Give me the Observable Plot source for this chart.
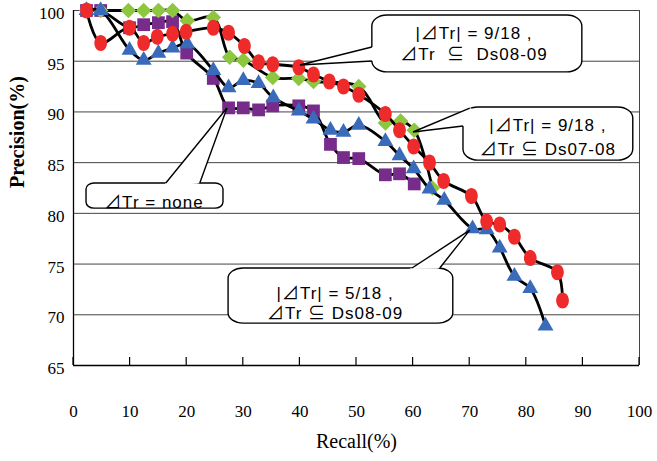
<!DOCTYPE html>
<html><head><meta charset="utf-8">
<script src="https://cdn.jsdelivr.net/npm/d3@7"></script>
<script src="https://cdn.jsdelivr.net/npm/@observablehq/plot@0.6"></script>
<style>body{margin:0;background:#fff} svg{display:block}</style>
</head><body><div id="chart"></div>
<script>
// ---- data ----
const xTicks = [0,10,20,30,40,50,60,70,80,90,100];
const yTicks = [65,70,75,80,85,90,95,100];

// ⊿Tr = none (purple squares)
const noneRecall    = [2.3,4.8,9.9,12.4,15.0,17.5,20.0,24.7,27.4,30.0,32.7,35.2,39.8,42.4,45.4,47.7,50.4,55.1,57.6,60.2];
const nonePrecision = [100,100,98.3,98.6,98.8,98.9,95.8,93.3,90.4,90.4,90.2,90.6,90.6,90.1,86.8,85.5,85.4,83.8,83.9,82.9];

// |⊿Tr| = 9/18, ⊿Tr ⊆ Ds07-08 (green diamonds)
const d0708Recall    = [2.3,4.8,9.7,12.4,15.0,17.5,20.1,24.7,27.6,30.0,35.2,39.8,42.4,50.4,55.1,57.8,60.2,63.4];
const d0708Precision = [100,100,100,100,100,100,99.0,99.3,95.4,95.1,93.4,93.3,93.0,92.5,88.9,89.1,88.2,82.5];

// |⊿Tr| = 5/18, ⊿Tr ⊆ Ds08-09 (blue triangles)
const five0809Recall    = [2.3,4.8,9.9,12.4,15.0,17.5,20.1,24.7,27.4,30.0,32.7,35.3,39.8,42.4,45.4,47.7,50.4,55.1,57.6,60.1,62.9,65.5,70.5,73.0,75.3,77.9,80.7,83.4];
const five0809Precision = [100,100,96.1,95.1,95.8,96.3,96.7,94.1,92.4,93.1,92.8,91.4,90.1,89.3,88.2,88.0,88.7,87.1,85.7,84.4,82.4,81.3,78.5,78.4,76.6,73.8,72.6,68.9];

// |⊿Tr| = 9/18, ⊿Tr ⊆ Ds08-09 (red circles)
const nine0809Recall    = [2.3,4.8,9.9,12.4,14.8,17.5,19.9,24.7,27.4,30.2,32.7,35.2,39.8,42.4,45.2,47.7,50.4,55.1,57.6,60.1,62.9,65.4,70.3,73.0,75.3,77.9,80.7,85.5,86.4];
const nine0809Precision = [100,96.8,98.3,96.8,97.4,97.7,97.9,98.3,97.8,96.5,94.9,94.7,94.4,93.7,93.0,92.5,91.7,89.8,88.2,86.6,85.0,83.2,81.7,79.2,78.9,77.7,75.6,74.2,71.4];

const seriesNames  = ["none", "ds0708", "five0809", "nine0809"];
const seriesColors = ["#772B8A", "#8DC63F", "#3A6BBA", "#EE2A2A"];

// ---- build rows ----
const table = (name, xs, ys) => xs.map((x, i) => ({series: name, recall: x, precision: ys[i]}));
const noneRows = table("none", noneRecall, nonePrecision);
const g0708Rows = table("ds0708", d0708Recall, d0708Precision);
const b5Rows = table("five0809", five0809Recall, five0809Precision);
const r9Rows = table("nine0809", nine0809Recall, nine0809Precision);

// ellipse symbol (slightly tall circles as in reference)
const ellipse = {draw(ctx, size) {
  const r = Math.sqrt(size / Math.PI), rx = r * 0.85, ry = r * 1.07, k = 0.5523;
  ctx.moveTo(rx, 0);
  ctx.bezierCurveTo(rx, ry*k, rx*k, ry, 0, ry);
  ctx.bezierCurveTo(-rx*k, ry, -rx, ry*k, -rx, 0);
  ctx.bezierCurveTo(-rx, -ry*k, -rx*k, -ry, 0, -ry);
  ctx.bezierCurveTo(rx*k, -ry, rx, -ry*k, rx, 0);
  ctx.closePath();
}};

const lineOpts = {x: "recall", y: "precision", stroke: "#000", strokeWidth: 2.8, curve: "catmull-rom"};

const chart = Plot.plot({
  width: 657, height: 461,
  marginLeft: 73, marginRight: 18, marginTop: 10, marginBottom: 96,
  style: {fontFamily: "'Liberation Serif', 'Times New Roman', serif", fontSize: "16px", color: "#000", background: "#fff", overflow: "visible"},
  x: {domain: [0, 100]},
  y: {domain: [65, 100]},
  marks: [
    Plot.ruleY(yTicks, {stroke: "#444", strokeWidth: 1}),
    Plot.ruleX([100], {stroke: "#444", strokeWidth: 1}),
    Plot.ruleX([0], {stroke: "#000", strokeWidth: 1.3}),
    Plot.ruleY([65], {stroke: "#000", strokeWidth: 1.3}),
    Plot.axisX({ticks: xTicks, tickSize: 0, tickPadding: 39, label: null, fontSize: 17}),
    Plot.axisY({ticks: yTicks, tickSize: 0, tickPadding: 9, dy: 3, label: null, fontSize: 17}),
    // purple
    Plot.line(noneRows, lineOpts),
    Plot.dot(noneRows, {x: "recall", y: "precision", symbol: "square", r: 7.2, fill: seriesColors[0]}),
    // green
    Plot.line(g0708Rows, lineOpts),
    Plot.dot(g0708Rows, {x: "recall", y: "precision", symbol: "diamond2", r: 7.0, fill: seriesColors[1]}),
    // blue
    Plot.line(b5Rows, lineOpts),
    Plot.dot(b5Rows, {x: "recall", y: "precision", symbol: "triangle", r: 5.9, fill: seriesColors[2]}),
    // red
    Plot.line(r9Rows, lineOpts),
    Plot.dot(r9Rows, {x: "recall", y: "precision", symbol: ellipse, r: 7.5, fill: seriesColors[3]}),
    Plot.text(["Recall(%)"], {text: d => d, frameAnchor: "bottom", dy: 82, fontSize: 20}),
    Plot.text(["Precision(%)"], {text: d => d, frameAnchor: "left", dx: -56, rotate: -90, fontSize: 20, fontWeight: "bold"})
  ]
});
document.getElementById("chart").appendChild(chart);

// ---- axis tick marks (inward) and callout annotations ----
const sx = chart.scale("x"), sy = chart.scale("y");
const svg = d3.select(chart);
const tg = svg.append("g");
xTicks.forEach(t => {
  const px = sx.apply(t), py = sy.apply(65);
  tg.append("line").attr("x1", px).attr("x2", px).attr("y1", py).attr("y2", py - 8).attr("stroke", "#000").attr("stroke-width", 1.2);
});

const callouts = [
  {x1: 52.8, x2: 89.9, yTop: 99.5, yBottom: 93.9, rx: 15, ry: 11,
   base: [[52.8, 96.35], [52.8, 94.97]], tip: [40.1, 94.58],
   textX: 70.85, lines: [["|⊿Tr| = 9/18 ,", 97.73], ["⊿Tr  ⊆  Ds08-09", 95.66]]},
  {x1: 68.9, x2: 98.9, yTop: 90.43, yBottom: 85.2, rx: 15, ry: 11,
   base: [[70.1, 90.33], [68.9, 88.56]], tip: [60.07, 87.97],
   textX: 83.9, lines: [["|⊿Tr| = 9/18 ,", 88.66], ["⊿Tr ⊆ Ds07-08", 86.29]]},
  {x1: 2.3, x2: 26.5, yTop: 82.94, yBottom: 80.47, rx: 8, ry: 6,
   base: [[16.4, 82.94], [22.4, 82.94]], tip: [27.2, 90.34],
   textX: 14.3, lines: [["⊿Tr = none", 81.1]]},
  {x1: 27.4, x2: 67.1, yTop: 74.56, yBottom: 69.13, rx: 15, ry: 10,
   base: [[59.9, 74.56], [64.8, 74.56]], tip: [70.1, 78.3],
   textX: 46.3, lines: [["|⊿Tr| = 5/18 ,", 72.1], ["⊿Tr ⊆ Ds08-09", 70.1]]}
];

const cg = svg.append("g");
callouts.forEach(c => {
  const X1 = sx.apply(c.x1), X2 = sx.apply(c.x2), Y1 = sy.apply(c.yTop), Y2 = sy.apply(c.yBottom);
  cg.append("rect").attr("x", X1).attr("y", Y1).attr("width", X2 - X1).attr("height", Y2 - Y1)
    .attr("rx", c.rx).attr("ry", c.ry).attr("fill", "#fff").attr("stroke", "#000").attr("stroke-width", 1.4);
  const T = [sx.apply(c.tip[0]), sy.apply(c.tip[1])];
  const B = c.base.map(b => [sx.apply(b[0]), sy.apply(b[1])]);
  const cx = (X1 + X2) / 2, cy = (Y1 + Y2) / 2;
  const inner = B.map(([bx, by]) => {
    const dx = cx - bx, dy = cy - by, L = Math.hypot(dx, dy);
    return [bx + dx / L * 3, by + dy / L * 3];
  });
  cg.append("path").attr("d", `M${inner[0]}L${B[0]}L${T}L${B[1]}L${inner[1]}Z`).attr("fill", "#fff").attr("stroke", "none");
  cg.append("path").attr("d", `M${B[0]}L${T}L${B[1]}`).attr("fill", "none").attr("stroke", "#000").attr("stroke-width", 1.4);
  c.lines.forEach(([s, yv]) => {
    cg.append("text").attr("x", sx.apply(c.textX)).attr("y", sy.apply(yv)).attr("dy", "0.35em")
      .attr("text-anchor", "middle").attr("font-family", "'Liberation Sans', 'Noto Sans CJK JP', Arial, sans-serif")
      .attr("font-size", 17).attr("letter-spacing", 1).attr("fill", "#000")
      .style("white-space", "pre").text(s);
  });
});
</script>
</body></html>
